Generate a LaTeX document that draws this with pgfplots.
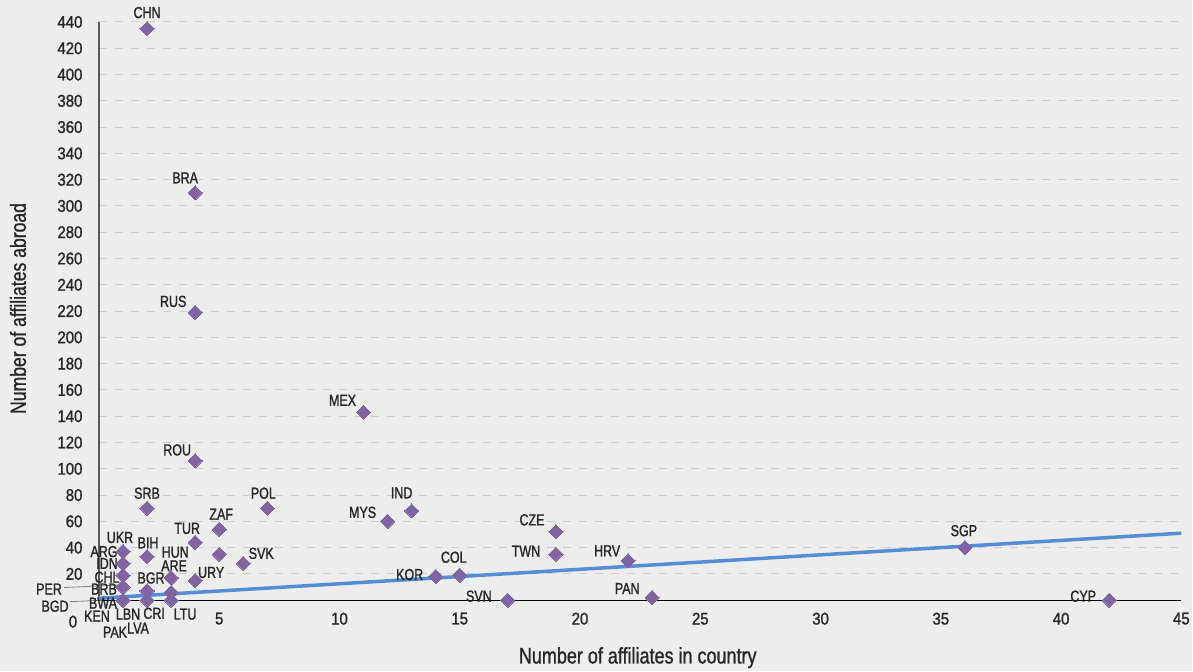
\documentclass[border=0pt]{standalone}
\usepackage{pgfplots}
\pgfplotsset{compat=1.18}
\usepackage{fontspec}
\setmainfont{Liberation Sans}
\newfontfamily\lblfont[FakeStretch=0.78,FakeBold=1.2]{Liberation Sans}
\newfontfamily\tickfont[FakeStretch=0.88,FakeBold=1.2]{Liberation Sans}
\newfontfamily\titlefont[FakeStretch=0.8,FakeBold=1.0]{Liberation Sans}
\definecolor{bg}{RGB}{237,237,237}
\definecolor{pt}{RGB}{128,100,162}
\definecolor{trend}{RGB}{84,141,212}
\definecolor{txt}{RGB}{38,38,38}
\definecolor{gridc}{RGB}{205,205,205}
\definecolor{yax}{RGB}{89,89,89}
\tikzset{lbl/.style={font=\lblfont\fontsize{16}{16}\selectfont, text=txt, inner sep=0pt}}
\begin{document}
\begin{tikzpicture}
\fill[bg] (-99pt,-70.5pt) rectangle (1094pt,600.5pt);
\begin{axis}[
  scale only axis,
  width=1083pt, height=578.5pt,
  xmin=0, xmax=45, ymin=0, ymax=440,
  clip=false,
  axis line style={draw=none},
  xtick={5,10,...,45},
  ytick={20,40,...,440},
  major tick length=0pt,
  ymajorgrids,
  grid style={gridc, line width=1pt, dash pattern=on 8pt off 8pt},
  /pgf/number format/assume math mode=true,
  ticklabel style={font=\tickfont\fontsize{17}{17}\selectfont, text=txt},
  yticklabel style={xshift=-13pt},
  xticklabel style={yshift=-9pt},
]
\draw[black, line width=1.3pt] (axis cs:0,0) -- (axis cs:45,0);
\draw[yax, line width=2pt] (axis cs:0,0) -- (axis cs:0,440);
\addplot[trend, line width=3.5pt, no marks] coordinates {(0,1.5) (45,51)};
\addplot[only marks, draw=pt, fill=pt, mark=square*, mark size=5pt, mark options={rotate=45, draw=pt, fill=pt, line width=0pt}] table[row sep=\\] {
x y\\
2 435\\ 4 310\\ 4 219\\ 11 143\\ 4 106\\ 2 70\\ 7 70\\ 13 68\\ 12 60\\ 5 54\\
19 52\\ 4 44\\ 1 37\\ 2 33\\ 5 35\\ 19 35\\ 36 40\\ 22 30\\ 6 28\\ 1 28\\
3 17\\ 1 19\\ 2 7\\ 4 15\\ 1 10\\ 1 0\\ 2 0\\ 3 6\\ 3 0\\ 14 18\\
15 19\\ 17 0\\ 23 2\\ 42 0\\
};
% leader lines
\draw[gray, line width=0.8pt] ([xshift=-59pt,yshift=-0.5pt]axis cs:1,10) -- ([xshift=-4pt,yshift=2pt]axis cs:1,10);
\draw[gray, line width=0.8pt] ([xshift=-53pt,yshift=-1.5pt]axis cs:1,0) -- ([xshift=-20pt,yshift=0pt]axis cs:1,0);
% labels
\node[lbl, yshift=16pt] at (axis cs:2,435) {CHN};
\node[lbl, xshift=-10pt, yshift=15pt] at (axis cs:4,310) {BRA};
\node[lbl, xshift=-22pt, yshift=11pt] at (axis cs:4,219) {RUS};
\node[lbl, xshift=-21pt, yshift=12pt] at (axis cs:11,143) {MEX};
\node[lbl, xshift=-18pt, yshift=11pt] at (axis cs:4,106) {ROU};
\node[lbl, yshift=15pt] at (axis cs:2,70) {SRB};
\node[lbl, xshift=-4pt, yshift=15pt] at (axis cs:7,70) {POL};
\node[lbl, xshift=-10pt, yshift=18pt] at (axis cs:13,68) {IND};
\node[lbl, xshift=-25pt, yshift=9pt] at (axis cs:12,60) {MYS};
\node[lbl, xshift=2pt, yshift=15pt] at (axis cs:5,54) {ZAF};
\node[lbl, xshift=-24pt, yshift=12pt] at (axis cs:19,52) {CZE};
\node[lbl, xshift=-8pt, yshift=14pt] at (axis cs:4,44) {TUR};
\node[lbl, xshift=-3pt, yshift=14pt] at (axis cs:1,37) {UKR};
\node[lbl, xshift=-19pt, yshift=0pt] at (axis cs:1,37) {ARG};
\node[lbl, xshift=1pt, yshift=14pt] at (axis cs:2,33) {BIH};
\node[lbl, xshift=-44pt, yshift=2pt] at (axis cs:5,35) {HUN};
\node[lbl, xshift=-16pt, yshift=0pt] at (axis cs:1,28) {IDN};
\node[lbl, xshift=3pt, yshift=12pt] at (axis cs:3,17) {ARE};
\node[lbl, xshift=-16pt, yshift=-2pt] at (axis cs:1,19) {CHL};
\node[lbl, xshift=4pt, yshift=13pt] at (axis cs:2,7) {BGR};
\node[lbl, xshift=16pt, yshift=8pt] at (axis cs:4,15) {URY};
\node[lbl, xshift=18pt, yshift=10pt] at (axis cs:6,28) {SVK};
\node[lbl, xshift=-74pt, yshift=-2pt] at (axis cs:1,10) {PER};
\node[lbl, xshift=-19pt, yshift=-2pt] at (axis cs:1,10) {BRB};
\node[lbl, xshift=-68pt, yshift=-6pt] at (axis cs:1,0) {BGD};
\node[lbl, xshift=-20pt, yshift=-3pt] at (axis cs:1,0) {BWA};
\node[lbl, xshift=-26pt, yshift=-16pt] at (axis cs:1,0) {KEN};
\node[lbl, xshift=-8pt, yshift=-32pt] at (axis cs:1,0) {PAK};
\node[lbl, xshift=-19pt, yshift=-14pt] at (axis cs:2,0) {LBN};
\node[lbl, xshift=-9pt, yshift=-28pt] at (axis cs:2,0) {LVA};
\node[lbl, xshift=-17pt, yshift=-21pt] at (axis cs:3,6) {CRI};
\node[lbl, xshift=14pt, yshift=-14pt] at (axis cs:3,0) {LTU};
\node[lbl, xshift=-26pt, yshift=2pt] at (axis cs:14,18) {KOR};
\node[lbl, xshift=-6pt, yshift=18pt] at (axis cs:15,19) {COL};
\node[lbl, xshift=-29pt, yshift=4pt] at (axis cs:17,0) {SVN};
\node[lbl, xshift=-30pt, yshift=3pt] at (axis cs:19,35) {TWN};
\node[lbl, xshift=-21pt, yshift=10pt] at (axis cs:22,30) {HRV};
\node[lbl, xshift=-25pt, yshift=9pt] at (axis cs:23,2) {PAN};
\node[lbl, xshift=-1pt, yshift=17pt] at (axis cs:36,40) {SGP};
\node[lbl, xshift=-26pt, yshift=4pt] at (axis cs:42,0) {CYP};
% y=0 tick label
\node[font=\tickfont\fontsize{17}{17}\selectfont, text=txt, xshift=-26pt, yshift=-21.5pt] at (axis cs:0,0) {0};
% axis titles
\node[font=\titlefont\fontsize{22.5}{22.5}\selectfont, text=txt] at ([yshift=-57.5pt]axis cs:22.4,0) {Number of affiliates in country};
\node[font=\titlefont\fontsize{22}{22}\selectfont, text=txt, rotate=90] at ([xshift=-81pt]axis cs:0,222) {Number of affiliates abroad};
\end{axis}
\end{tikzpicture}
\end{document}
